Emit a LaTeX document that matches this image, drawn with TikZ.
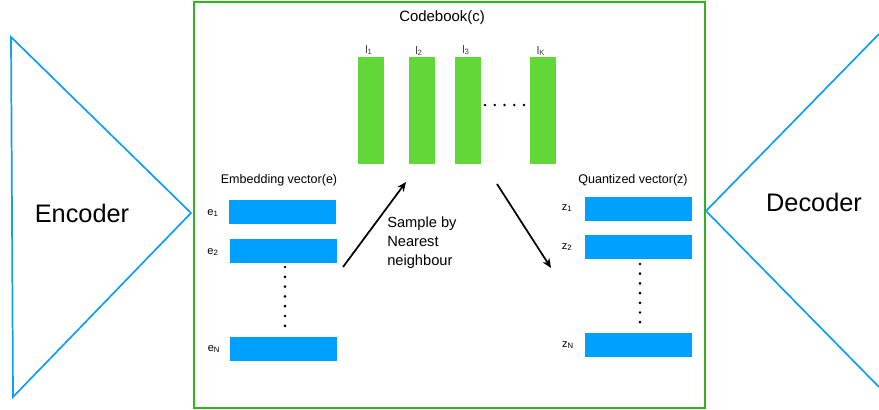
\documentclass[tikz,border=0pt]{standalone}
\usepackage{fontspec}
\setmainfont{Liberation Sans}
\definecolor{barblue}{RGB}{0,160,255}
\definecolor{triblue}{RGB}{20,160,240}
\definecolor{bargreen}{RGB}{98,216,56}
\definecolor{boxgreen}{RGB}{50,180,30}
\tikzset{
  gbar/.style={fill=bargreen, draw=none, minimum width=19.5pt, minimum height=80.25pt, inner sep=0pt},
  bbar/.style={fill=barblue, draw=none, minimum width=80.25pt, minimum height=18pt, inner sep=0pt},
  tri/.style={draw=triblue, line width=1.3pt, line join=miter},
  lbl/.style={font=\fontsize{8.3}{10}\selectfont, inner sep=0pt},
  ttl/.style={font=\fontsize{9.4}{11}\selectfont, inner sep=0pt},
  big/.style={font=\fontsize{19}{22}\selectfont, inner sep=0pt},
  arr/.style={draw=black, line width=1.3pt, -{Stealth[length=7pt,width=6pt]}},
  dot/.style={circle, fill=black, inner sep=0pt, minimum size=2.2pt}
}
\usetikzlibrary{arrows.meta}
\begin{document}
\begin{tikzpicture}[x=0.75pt,y=-0.75pt]
\useasboundingbox (0,0) rectangle (879,410);
% encoder / decoder
\draw[tri] (11,37) -- (191,213) -- (13,397) -- cycle;
\node[big] (enc) at (82,213) {Encoder};
\draw[tri] (879,34) -- (706,211) -- (879,387);
\node[big] (dec) at (814,202) {Decoder};
% codebook box
\draw[draw=boxgreen, line width=1.5pt] (193.5,2.5) rectangle (704.5,407.5);
\node[font=\fontsize{11.2}{13}\selectfont, inner sep=0pt] (cbt) at (442,18) {Codebook(c)};
% codebook bars
\node[gbar] (l1) at (371,110.5) {};
\node[gbar] (l2) at (422,110.5) {};
\node[gbar] (l3) at (468,110.5) {};
\node[gbar] (lK) at (543,110.5) {};
\node[lbl, text=black!75] at (369,50) {l\textsubscript{1}};
\node[lbl, text=black!75] at (419,51) {l\textsubscript{2}};
\node[lbl, text=black!75] at (466,50) {l\textsubscript{3}};
\node[lbl, text=black!75] at (541,51) {l\textsubscript{K}};
\foreach \i in {0,...,4} \node[dot] at (485+\i*9.75,105) {};
% embedding
\node[ttl] (et) at (279,180) {Embedding vector(e)};
\node[bbar] (e1) at (282.5,212) {};
\node[bbar] (e2) at (283.5,251) {};
\node[bbar] (eN) at (283.5,349) {};
\node[lbl] at (213,213) {e\textsubscript{1}};
\node[lbl] at (213,252) {e\textsubscript{2}};
\node[lbl] at (214,349) {e\textsubscript{N}};
\foreach \i in {0,...,6} \node[dot] at (285,267+\i*9.8) {};
% quantized
\node[ttl] (zt) at (633,180) {Quantized vector(z)};
\node[bbar] (z1) at (638.5,209) {};
\node[bbar] (z2) at (638.5,247) {};
\node[bbar] (zN) at (638.5,345) {};
\node[lbl] at (567,208) {z\textsubscript{1}};
\node[lbl] at (567,247) {z\textsubscript{2}};
\node[lbl] at (568,345) {z\textsubscript{N}};
\foreach \i in {0,...,6} \node[dot] at (640,264+\i*9.7) {};
% arrows
\coordinate (a1s) at (343,267);
\coordinate (a1e) at (406,182);
\coordinate (a2s) at (497,184);
\coordinate (a2e) at (551,268);
\draw[arr] (a1s) -- (a1e);
\draw[arr] (a2s) -- (a2e);
\node[font=\fontsize{11}{14.2}\selectfont, align=left, anchor=north west, inner sep=0pt] (smp) at (387,217) {Sample by\\Nearest\\neighbour};
\end{tikzpicture}
\end{document}
